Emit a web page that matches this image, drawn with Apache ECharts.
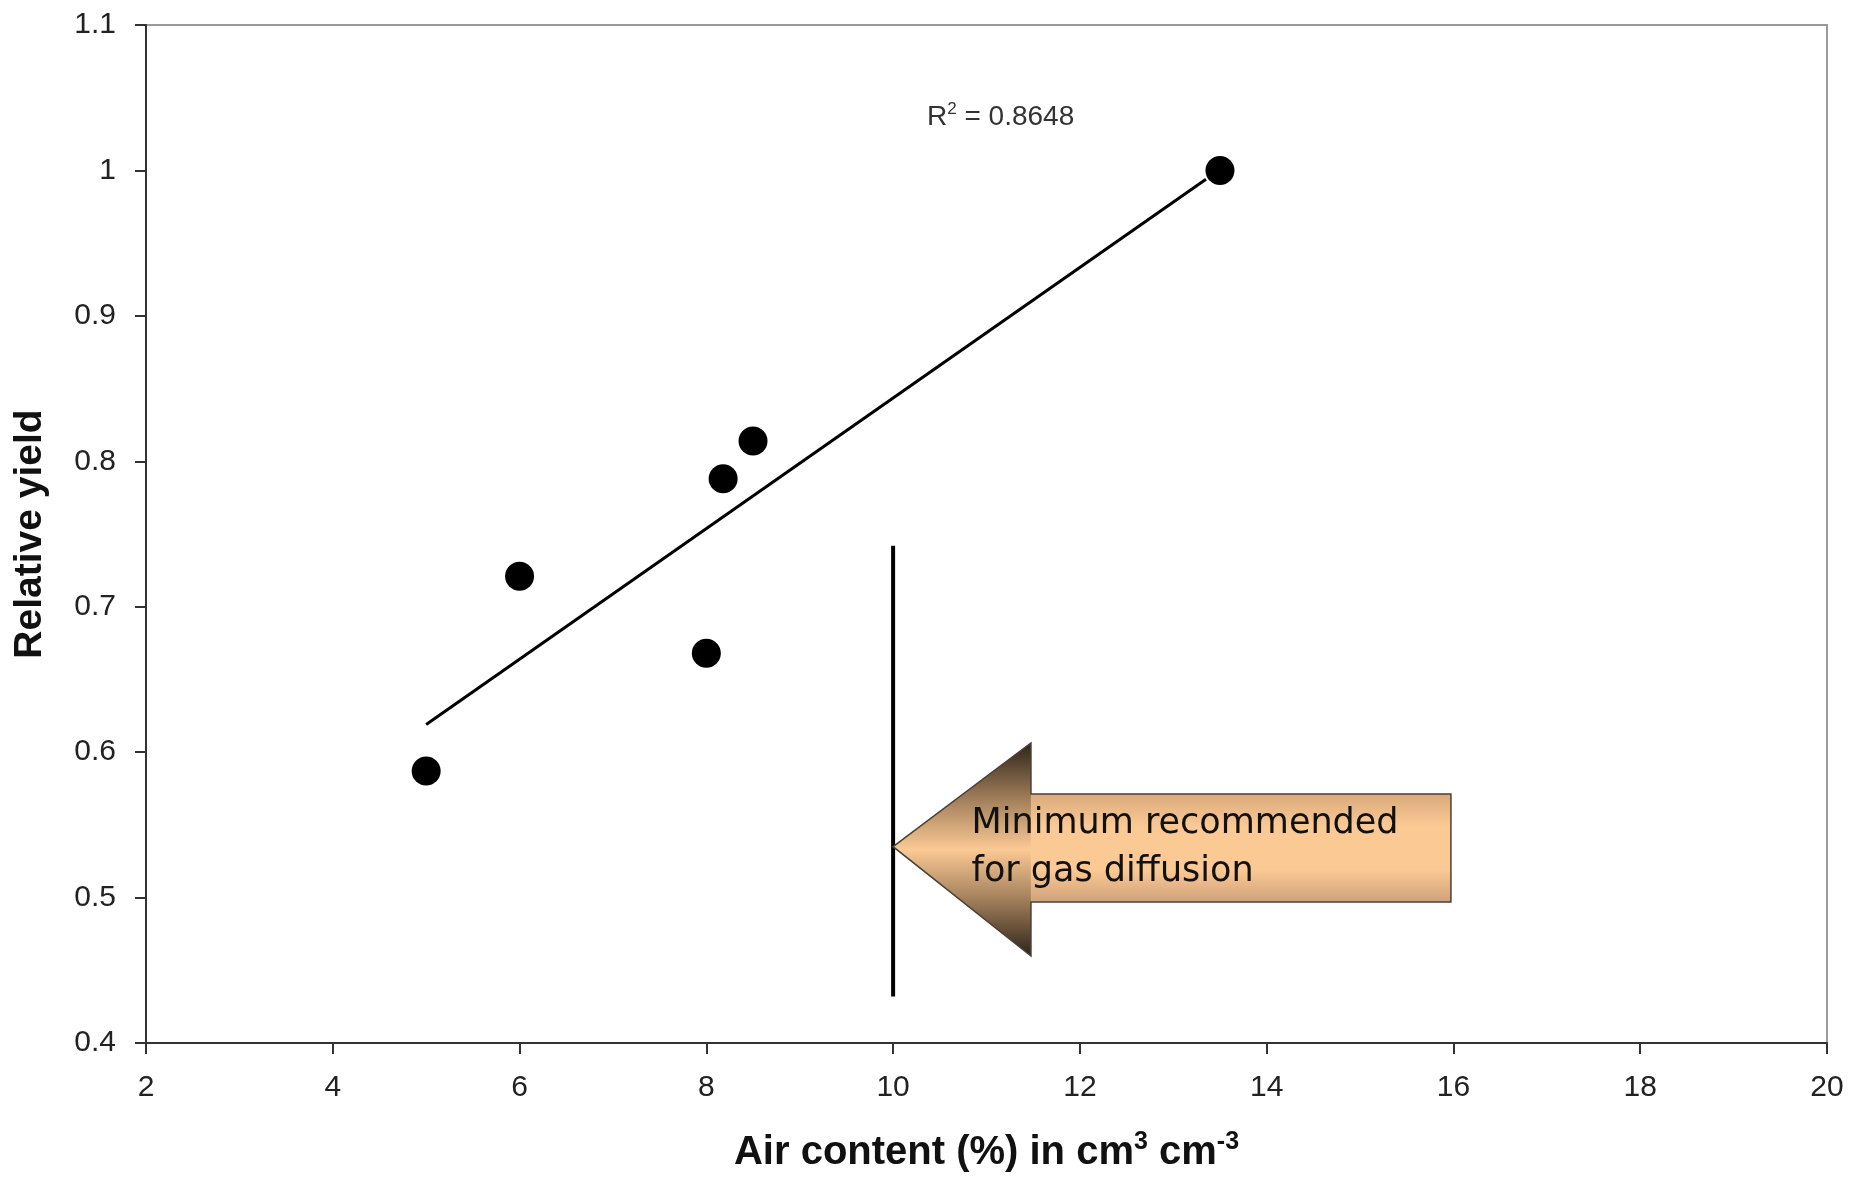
<!DOCTYPE html>
<html lang="en">
<head>
    <meta charset="UTF-8">
    <title>Relative yield vs air content</title>
    <script src="https://cdn.jsdelivr.net/npm/echarts@6/dist/echarts.min.js"></script>
    <style>
        html, body { margin: 0; padding: 0; background: #fff; }
    </style>
</head>
<body>
    <div id="main" style="width:1850px;height:1178px;"></div>
<script type="text/javascript">
    // values
    var airContent = [5, 6, 8, 8.18, 8.5, 13.5];
    var relYield = [0.587, 0.721, 0.668, 0.788, 0.814, 1.0];
    // fitted line as drawn (end points)
    var trendX = [5, 13.35];
    var trendY = [0.619, 0.994];
    // vertical "minimum" marker at 10 %
    var limitX = [10, 10];
    var limitY = [0.432, 0.742];
    var xTicks = [2, 4, 6, 8, 10, 12, 14, 16, 18, 20];
    var yTicks = [0.4, 0.5, 0.6, 0.7, 0.8, 0.9, 1, 1.1];

    var chart = echarts.init(document.getElementById('main'));

    function pairs(xs, ys) {
        var out = [];
        for (var i = 0; i < xs.length; i++) out.push([xs[i], ys[i]]);
        return out;
    }

    // arrow drawn in data space
    function renderArrow(params, api) {
        var c = function (x, y) { return api.coord([x, y]); };
        var tip = c(10.0, 0.535);
        var hTop = c(11.476, 0.6063), hBot = c(11.476, 0.4598);
        var sTL = c(11.476, 0.5712), sTR = c(15.973, 0.5712);
        var sBR = c(15.973, 0.497), sBL = c(11.476, 0.497);
        var txt = c(10.84, 0.534);
        return {
            type: 'group',
            children: [
                {
                    type: 'polygon',
                    shape: { points: [sTL, sTR, sBR, sBL] },
                    style: {
                        fill: new echarts.graphic.LinearGradient(0, 0, 0, 1, [
                            { offset: 0, color: '#d9aa7c' },
                            { offset: 0.3, color: '#fbc994' },
                            { offset: 0.7, color: '#fbc994' },
                            { offset: 1, color: '#cfa27a' }
                        ])
                    }
                },
                {
                    type: 'polygon',
                    shape: { points: [tip, hTop, hBot] },
                    style: {
                        fill: new echarts.graphic.LinearGradient(0, 0, 0, 1, [
                            { offset: 0, color: '#2e2418' },
                            { offset: 0.28, color: '#a8845f' },
                            { offset: 0.5, color: '#fbc994' },
                            { offset: 0.72, color: '#a8845f' },
                            { offset: 1, color: '#2e2418' }
                        ])
                    }
                },
                {
                    type: 'polygon',
                    shape: { points: [tip, hTop, sTL, sTR, sBR, sBL, hBot] },
                    style: { fill: null, stroke: '#4a4038', lineWidth: 1.5 }
                },
                {
                    type: 'text',
                    x: txt[0],
                    y: txt[1],
                    style: {
                        text: 'Minimum recommended\nfor gas diffusion',
                        font: '35px "DejaVu Sans", Verdana, sans-serif',
                        fill: '#111',
                        lineHeight: 48,
                        align: 'left',
                        verticalAlign: 'middle'
                    }
                }
            ]
        };
    }

    var option = {
        animation: false,
        backgroundColor: '#fff',
        grid: {
            left: 146, right: 23, top: 25, bottom: 135,
            containLabel: false,
            outerBoundsMode: 'none',
            show: true, borderColor: '#9a9a9a', borderWidth: 2
        },
        xAxis: {
            type: 'value',
            min: xTicks[0], max: xTicks[xTicks.length - 1], interval: 2,
            name: 'Air content (%) in cm{sup|3} cm{sup|-3}',
            nameLocation: 'middle',
            nameGap: 110,
            nameMoveOverlap: false,
            nameTextStyle: {
                fontFamily: '"Liberation Sans", Arial, sans-serif',
                fontSize: 40, fontWeight: 'bold', color: '#111',
                lineHeight: 46,
                verticalAlign: 'middle',
                rich: {
                    sup: {
                        fontFamily: '"Liberation Sans", Arial, sans-serif',
                        fontSize: 25, color: '#111', verticalAlign: 'top', lineHeight: 25
                    }
                }
            },
            axisLine: { show: true, lineStyle: { color: '#333', width: 2 } },
            axisTick: { show: true, inside: false, length: 11, lineStyle: { color: '#333', width: 2 } },
            axisLabel: {
                margin: 30,
                fontFamily: '"Liberation Sans", Arial, sans-serif',
                fontSize: 30, color: '#222'
            },
            splitLine: { show: false }
        },
        yAxis: {
            type: 'value',
            min: yTicks[0], max: yTicks[yTicks.length - 1], interval: 0.1,
            name: 'Relative yield',
            nameLocation: 'middle',
            nameGap: 96,
            nameMoveOverlap: false,
            nameTextStyle: {
                fontFamily: '"Liberation Sans", Arial, sans-serif',
                fontSize: 39, fontWeight: 'bold', color: '#111'
            },
            axisLine: { show: true, lineStyle: { color: '#333', width: 2 } },
            axisTick: { show: true, inside: false, length: 11, lineStyle: { color: '#333', width: 2 } },
            axisLabel: {
                margin: 30,
                fontFamily: '"Liberation Sans", Arial, sans-serif',
                fontSize: 30, color: '#222'
            },
            splitLine: { show: false }
        },
        series: [
            {
                name: 'limit',
                type: 'line',
                data: pairs(limitX, limitY),
                symbol: 'none',
                lineStyle: { color: '#000', width: 4 },
                z: 3
            },
            {
                name: 'arrow',
                type: 'custom',
                renderItem: renderArrow,
                data: [[10, 0.535]],
                clip: false,
                silent: true,
                z: 4
            },
            {
                name: 'trend',
                type: 'line',
                data: pairs(trendX, trendY),
                symbol: 'none',
                lineStyle: { color: '#000', width: 3 },
                z: 5
            },
            {
                name: 'yield',
                type: 'scatter',
                data: pairs(airContent, relYield),
                symbol: 'circle',
                symbolSize: 29,
                itemStyle: { color: '#000', opacity: 1 },
                z: 6
            }
        ],
        graphic: [
            {
                type: 'text',
                left: 927,
                top: 101,
                style: {
                    text: '{r|R}{s|2}{r| = 0.8648}',
                    rich: {
                        r: { font: '28px "Liberation Sans", Arial, sans-serif', fill: '#333', lineHeight: 32 },
                        s: { font: '17px "Liberation Sans", Arial, sans-serif', fill: '#333', verticalAlign: 'top', lineHeight: 17 }
                    }
                }
            }
        ]
    };

    chart.setOption(option);
</script>
</body>
</html>
